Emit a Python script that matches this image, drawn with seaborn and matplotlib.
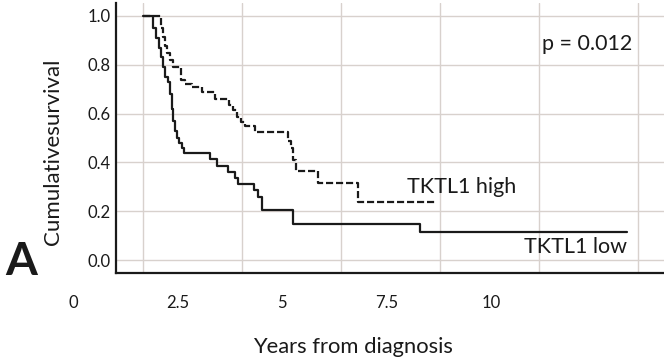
import matplotlib
matplotlib.use('Agg')
import matplotlib.pyplot as plt
from matplotlib.ticker import MultipleLocator
from matplotlib.transforms import blended_transform_factory
import pandas as pd
import seaborn as sns

# Kaplan-Meier step points (years, cumulative survival)
low_years = [1.675, 1.907, 1.986, 2.050, 2.098, 2.146, 2.201, 2.273, 2.321, 2.368,
             2.400, 2.440, 2.488, 2.536, 2.600, 2.663, 3.278, 3.445, 3.708, 3.876,
             3.947, 4.330, 4.433, 4.514, 5.270, 8.301, 13.254]
low_surv = [1.0, 0.95, 0.91, 0.87, 0.83, 0.79, 0.75, 0.73, 0.68, 0.62,
            0.57, 0.53, 0.50, 0.48, 0.46, 0.437, 0.413, 0.385, 0.361, 0.338,
            0.310, 0.287, 0.260, 0.205, 0.148, 0.115, 0.115]

high_years = [1.675, 2.105, 2.153, 2.201, 2.249, 2.321, 2.392, 2.577, 2.679, 2.847,
              3.086, 3.397, 3.732, 3.828, 3.923, 4.019, 4.115, 4.354, 5.144, 5.215,
              5.263, 5.335, 5.873, 6.825, 8.70]
high_surv = [1.0, 0.95, 0.914, 0.877, 0.848, 0.82, 0.79, 0.738, 0.72, 0.709,
             0.69, 0.66, 0.635, 0.615, 0.586, 0.566, 0.549, 0.525, 0.488, 0.459,
             0.41, 0.366, 0.314, 0.239, 0.239]

x_tick_values = [0, 2.5, 5, 7.5, 10]
x_tick_labels = ['0', '2.5', '5', '7.5', '10']
y_tick_values = [0.0, 0.2, 0.4, 0.6, 0.8, 1.0]
y_tick_labels = ['0.0', '0.2', '0.4', '0.6', '0.8', '1.0']

sns.set_style('white')
plt.rcParams['font.family'] = ['Lato', 'DejaVu Sans']

ink = '#1a1a1a'
grid_color = '#d8d1cd'

fig = plt.figure(figsize=(6.64, 3.59), dpi=100)
ax = fig.add_axes([116 / 664, 86 / 359, 548 / 664, 270 / 359])

df_low = pd.DataFrame({'years': low_years, 'survival': low_surv})
df_high = pd.DataFrame({'years': high_years, 'survival': high_surv})

sns.lineplot(data=df_low, x='years', y='survival', drawstyle='steps-post',
             estimator=None, sort=False, color=ink, lw=1.6, ax=ax)
sns.lineplot(data=df_high, x='years', y='survival', drawstyle='steps-post',
             estimator=None, sort=False, color=ink, lw=1.6,
             linestyle=(0, (3.2, 1.3)), ax=ax)

ax.set_xlim(1.029, 14.14)
ax.set_ylim(-0.053, 1.053)

# grid: vertical lines on their own spacing, horizontal on the y ticks
ax.set_xticks([])
ax.xaxis.set_minor_locator(MultipleLocator(2.368, offset=1.675))
ax.grid(which='minor', axis='x', color=grid_color, lw=1.0)
ax.set_yticks(y_tick_values)
ax.set_yticklabels(y_tick_labels)
ax.grid(which='major', axis='y', color=grid_color, lw=1.0)
ax.set_axisbelow(True)
ax.tick_params(axis='both', which='both', length=0)
ax.tick_params(axis='y', pad=4, labelsize=12, labelcolor=ink)

for s in ['top', 'right']:
    ax.spines[s].set_visible(False)
for s in ['left', 'bottom']:
    ax.spines[s].set_color(ink)
    ax.spines[s].set_linewidth(1.6)

ax.set_xlabel('')
ax.set_ylabel('')

# x tick labels sit left of the plotting area too, so draw them as text
trans = blended_transform_factory(ax.transData, ax.transAxes)
for v, lab in zip(x_tick_values, x_tick_labels):
    ax.text(v, -0.1296, lab, transform=trans, ha='center', va='baseline',
            fontsize=12, color=ink, clip_on=False)

ax.text(13.37, 0.861, 'p = 0.012', ha='right', va='baseline', fontsize=15.5, color=ink)
ax.text(7.99, 0.275, 'TKTL1 high', ha='left', va='baseline', fontsize=15.5, color=ink)
ax.text(13.25, 0.0287, 'TKTL1 low', ha='right', va='baseline', fontsize=15.5, color=ink)

fig.text(53.5 / 664, 1 - 151.5 / 359, 'Cumulativesurvival', rotation=90,
         ha='center', va='center', fontsize=16, color=ink)
fig.text(352.5 / 664, 6 / 359, 'Years from diagnosis', ha='center', va='baseline',
         fontsize=15.8, color=ink)
fig.text(5 / 664, 84 / 359, 'A', ha='left', va='baseline', fontsize=33,
         fontweight='bold', color=ink)

fig.savefig('out.png', dpi=100)
